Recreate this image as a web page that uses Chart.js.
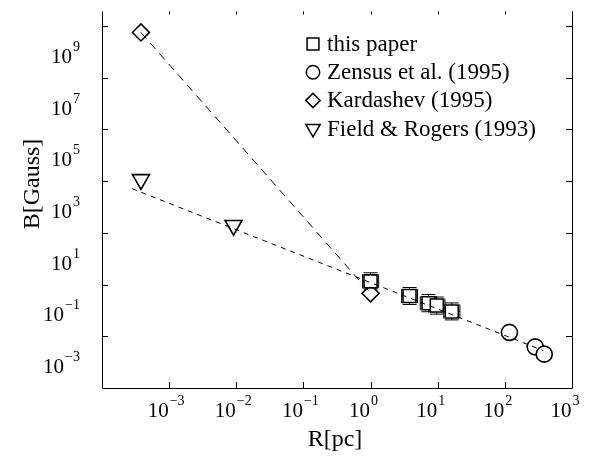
<!DOCTYPE html>
<html>
<head>
<meta charset="utf-8">
<script src="https://cdn.jsdelivr.net/npm/chart.js@4.4.1/dist/chart.umd.min.js"></script>
<style>
  html, body { margin: 0; padding: 0; background: #fff; }
  #wrap { width: 594px; height: 458px; position: relative; }
</style>
</head>
<body>
<div id="wrap"><canvas id="chart"></canvas></div>
<script>
// B-field vs. distance, log-log.

const paperR = [1.0, 3.8, 7.3, 9.7, 16.2];
const paperB = [1.33, 0.36, 0.19, 0.155, 0.091];
const paperRLow  = [0.76, 2.9, 5.5, 7.3, 12.3];
const paperRHigh = [1.32, 5.0, 9.6, 12.8, 21.4];
const paperBLow  = [0.62, 0.17, 0.089, 0.072, 0.043];
const paperBHigh = [2.85, 0.77, 0.41, 0.33, 0.195];

const zensusR = [117, 283, 386];
const zensusB = [0.0141, 0.0039, 0.00204];

const kardashevR = [3.8e-4, 1.0];
const kardashevB = [5.6e9, 0.46];

const fieldR = [3.8e-4, 0.0091];
const fieldB = [1.15e4, 195];

// dashed fit lines (end points)
const steepFitR = [3.8e-4, 1.0];
const steepFitB = [5.6e9, 0.46];
const shallowFitR = [2.8e-4, 372];
const shallowFitB = [5100, 0.0028];

const xTickPowers = [-3, -2, -1, 0, 1, 2, 3];
const yLabelPowers = [-3, -1, 1, 3, 5, 7, 9];
const yTickPowers = [-2, 0, 2, 4, 6, 8, 10];

const legendLabels = ["this paper", "Zensus et al. (1995)", "Kardashev (1995)", "Field & Rogers (1993)"];

const FONT = "'Liberation Serif', 'Times New Roman', serif";
const pts = (xs, ys) => xs.map((x, i) => ({ x, y: ys[i] }));

const MARKERS = [
  { pointStyle: "rect", radius: 9.2, rotation: 0 },
  { pointStyle: "circle", radius: 8, rotation: 0 },
  { pointStyle: "rectRot", radius: 8.5, rotation: 0 },
  { pointStyle: "triangle", radius: 9.8, rotation: 180 },
];
const LEGEND_MARKERS = [
  { pointStyle: "rect", radius: 8.4, rotation: 0 },
  { pointStyle: "circle", radius: 6.7, rotation: 0 },
  { pointStyle: "rectRot", radius: 7.2, rotation: 0 },
  { pointStyle: "triangle", radius: 8.3, rotation: 180 },
];

const markerSet = (label, data, m) => ({
  label, data,
  pointStyle: m.pointStyle,
  pointRadius: m.radius,
  rotation: m.rotation,
  pointBackgroundColor: "#fff",
  pointBorderColor: "#000",
  pointBorderWidth: 1.6,
  showLine: false,
  order: 1,
});

const fitLine = (data, dash) => ({
  data,
  showLine: true,
  borderColor: "#000",
  borderWidth: 1,
  borderDash: dash,
  pointRadius: 0,
  fill: false,
  order: 0,
});

// superscript label: "10" + exponent
function powLabel(ctx, p, x, y, align) {
  const exp = p < 0 ? "\u2212" + Math.abs(p) : String(p);
  ctx.font = "21px " + FONT;
  const wBase = ctx.measureText("10").width;
  ctx.font = "14px " + FONT;
  const wExp = ctx.measureText(exp).width;
  let x0;
  if (align === "x") x0 = x - wBase - 0.5;       // base ends at tick, exponent after
  else x0 = x - wBase - wExp - 1;                  // right aligned
  ctx.textAlign = "left";
  ctx.textBaseline = "alphabetic";
  ctx.font = "21px " + FONT;
  ctx.fillText("10", x0, y);
  ctx.font = "14px " + FONT;
  ctx.fillText(exp, x0 + wBase + 1, y - 12);
}

const axesPlugin = {
  id: "axesPlugin",
  beforeDatasetsDraw(chart) {
    const { ctx, scales: { x, y } } = chart;
    ctx.save();
    ctx.strokeStyle = "#000";
    ctx.lineWidth = 1;
    const cap = 7;
    paperR.forEach((r, i) => {
      const px = x.getPixelForValue(r), py = y.getPixelForValue(paperB[i]);
      const xl = x.getPixelForValue(paperRLow[i]), xh = x.getPixelForValue(paperRHigh[i]);
      const yl = y.getPixelForValue(paperBLow[i]), yh = y.getPixelForValue(paperBHigh[i]);
      ctx.beginPath();
      ctx.moveTo(xl, py); ctx.lineTo(xh, py);
      ctx.moveTo(xl, py - cap); ctx.lineTo(xl, py + cap);
      ctx.moveTo(xh, py - cap); ctx.lineTo(xh, py + cap);
      ctx.moveTo(px, yl); ctx.lineTo(px, yh);
      ctx.moveTo(px - cap, yl); ctx.lineTo(px + cap, yl);
      ctx.moveTo(px - cap, yh); ctx.lineTo(px + cap, yh);
      ctx.stroke();
    });
    ctx.restore();
  },
  afterDraw(chart) {
    const { ctx, chartArea: a, scales: { x, y } } = chart;
    ctx.save();
    ctx.strokeStyle = "#000";
    ctx.fillStyle = "#000";
    ctx.lineWidth = 1;

    // frame (top edge sits just outside the picture)
    ctx.beginPath();
    ctx.moveTo(a.left + 0.5, a.top);
    ctx.lineTo(a.left + 0.5, a.bottom + 0.5);
    ctx.lineTo(a.right + 0.5, a.bottom + 0.5);
    ctx.lineTo(a.right + 0.5, a.top);
    ctx.stroke();

    // inward ticks
    ctx.beginPath();
    xTickPowers.forEach(p => {
      const px = Math.round(x.getPixelForValue(Math.pow(10, p))) + 0.5;
      ctx.moveTo(px, a.bottom); ctx.lineTo(px, a.bottom - 6);
      ctx.moveTo(px, a.top); ctx.lineTo(px, a.top + 3);
    });
    yTickPowers.forEach(p => {
      const py = Math.round(y.getPixelForValue(Math.pow(10, p))) + 0.5;
      ctx.moveTo(a.left, py); ctx.lineTo(a.left + 6, py);
      ctx.moveTo(a.right, py); ctx.lineTo(a.right - 6, py);
    });
    ctx.stroke();

    // tick labels
    xTickPowers.forEach(p => powLabel(ctx, p, x.getPixelForValue(Math.pow(10, p)), a.bottom + 29, "x"));
    yLabelPowers.forEach(p => powLabel(ctx, p, a.left - 22, y.getPixelForValue(Math.pow(10, p)) + 11, "y"));

    // axis titles
    ctx.font = "24px " + FONT;
    ctx.textAlign = "center";
    ctx.textBaseline = "middle";
    ctx.fillText("R[pc]", (a.left + a.right) / 2 - 2, 440);
    ctx.save();
    ctx.translate(33, 184);
    ctx.rotate(-Math.PI / 2);
    ctx.fillText("B[Gauss]", 0, 0);
    ctx.restore();

    // legend
    ctx.textAlign = "left";
    ctx.textBaseline = "alphabetic";
    legendLabels.forEach((t, i) => {
      const cy = 44 + i * 28.2;
      ctx.fillStyle = "#fff";
      ctx.strokeStyle = "#000";
      ctx.lineWidth = 1.5;
      Chart.helpers.drawPoint(ctx, { ...LEGEND_MARKERS[i], borderWidth: 1.5 }, 313, cy);
      ctx.fillStyle = "#000";
      ctx.font = "23px " + FONT;
      ctx.fillText(t, 327, cy + 7);
    });
    ctx.restore();
  },
};

new Chart(document.getElementById("chart"), {
  type: "scatter",
  data: {
    datasets: [
      fitLine(pts(steepFitR, steepFitB), [8, 6]),
      fitLine(pts(shallowFitR, shallowFitB), [5, 5]),
      markerSet(legendLabels[0], pts(paperR, paperB), MARKERS[0]),
      markerSet(legendLabels[1], pts(zensusR, zensusB), MARKERS[1]),
      markerSet(legendLabels[2], pts(kardashevR, kardashevB), MARKERS[2]),
      markerSet(legendLabels[3], pts(fieldR, fieldB), MARKERS[3]),
    ],
  },
  options: {
    responsive: true,
    maintainAspectRatio: false,
    animation: false,
    layout: { padding: { left: 102, right: 22, top: 0, bottom: 70 } },
    plugins: { legend: { display: false }, tooltip: { enabled: false } },
    scales: {
      x: {
        type: "logarithmic",
        min: 1e-4, max: 1e3,
        ticks: { display: false },
        grid: { display: false, drawTicks: false },
        border: { display: false },
      },
      y: {
        type: "logarithmic",
        min: 1e-4, max: 3.65e10,
        ticks: { display: false },
        grid: { display: false, drawTicks: false },
        border: { display: false },
      },
    },
  },
  plugins: [axesPlugin],
});
</script>
</body>
</html>
